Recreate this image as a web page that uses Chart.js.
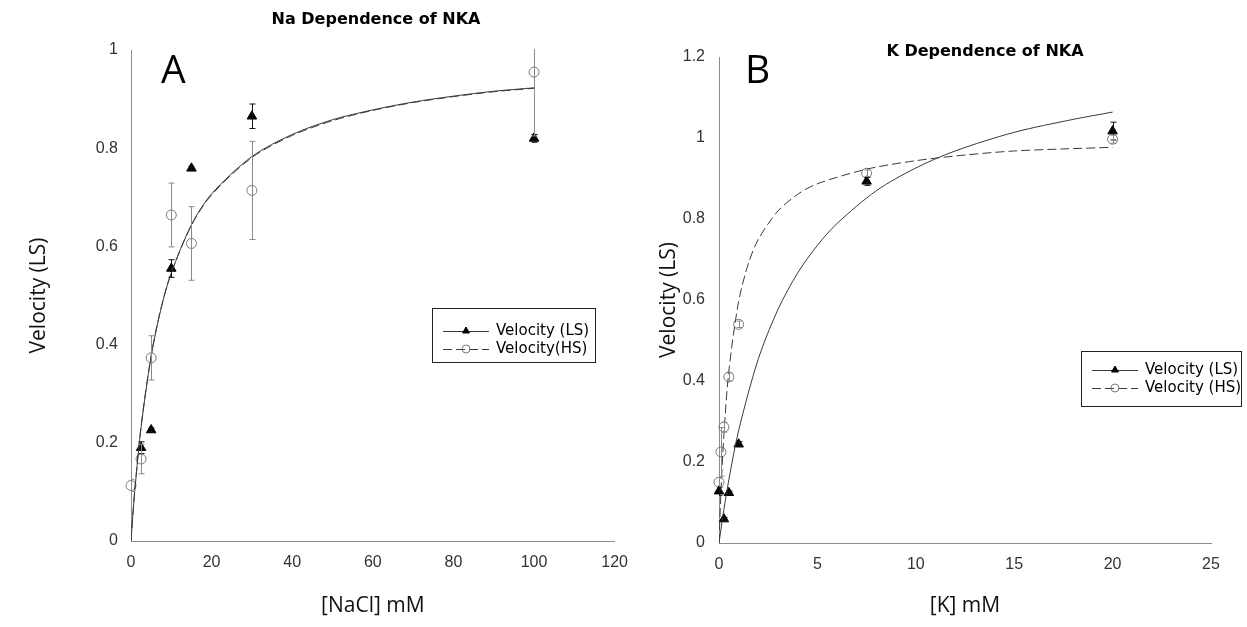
<!DOCTYPE html>
<html>
<head>
<meta charset="utf-8">
<script src="https://cdn.jsdelivr.net/npm/chart.js@4/dist/chart.umd.min.js"></script>
<style>
  body { margin: 0; background: #fff; }
  .panel { position: absolute; top: 0; height: 627px; }
  #panelA { left: 0; width: 640px; }
  #panelB { left: 640px; width: 607px; }
</style>
</head>
<body>
<div class="panel" id="panelA"><canvas id="naChart"></canvas></div>
<div class="panel" id="panelB"><canvas id="kChart"></canvas></div>
<script>
// Panel A: Na dependence
const naLsConc = [2.5, 5, 10, 15, 30, 100];
const naLsVel = [0.19, 0.226, 0.555, 0.759, 0.865, 0.82];
const naLsErr = [0.012, 0.004, 0.018, 0.004, 0.025, 0.008];
const naHsConc = [0, 2.5, 5, 10, 15, 30, 100];
const naHsVel = [0.113, 0.167, 0.373, 0.664, 0.606, 0.714, 0.955];
const naHsErr = [0.012, 0.03, 0.045, 0.065, 0.075, 0.1, 0.13];
const naFitConc = [0, 0.5, 1, 2.5, 5, 7.5, 10, 15, 20, 30, 40, 50, 60, 70, 80, 90, 100];
const naFitLs = [0, 0.057, 0.108, 0.231, 0.376, 0.475, 0.546, 0.644, 0.707, 0.783, 0.828, 0.858, 0.878, 0.894, 0.906, 0.916, 0.923];
const naFitHs = [0, 0.058, 0.11, 0.234, 0.378, 0.476, 0.546, 0.643, 0.705, 0.781, 0.826, 0.856, 0.877, 0.893, 0.905, 0.915, 0.922];

// Panel B: K dependence
const kLsConc = [0, 0.25, 0.5, 1, 7.5, 20];
const kLsVel = [0.128, 0.059, 0.124, 0.244, 0.893, 1.017];
const kLsErr = [0.01, 0.004, 0.004, 0.006, 0.01, 0.022];
const kHsConc = [0, 0.1, 0.25, 0.5, 1, 7.5, 20];
const kHsVel = [0.15, 0.225, 0.286, 0.41, 0.54, 0.913, 0.997];
const kHsErr = [0.01, 0.06, 0.012, 0.01, 0.008, 0.008, 0.01];
const kFitLsConc = [0, 0.25, 0.5, 1, 2, 3, 4, 5, 6, 8, 10, 12, 15, 18, 20];
const kFitLs = [0, 0.083, 0.156, 0.278, 0.455, 0.577, 0.667, 0.735, 0.789, 0.87, 0.926, 0.968, 1.014, 1.046, 1.064];
const kFitHsConc = [0, 0.1, 0.25, 0.5, 1, 1.5, 2, 3, 4, 5, 7.5, 10, 12.5, 15, 17.5, 20];
const kFitHs = [0, 0.128, 0.268, 0.424, 0.597, 0.691, 0.75, 0.82, 0.861, 0.887, 0.923, 0.944, 0.958, 0.968, 0.973, 0.977];

const tickFont = { family: "'Liberation Sans', Arial, sans-serif", size: 16 };
const axisTitleFont = { family: "'Open Sans', sans-serif", size: 21 };

function pts(xs, ys) {
    return xs.map((x, i) => ({ x: x, y: ys[i] }));
}

function tickText(v) {
    return String(Number(v.toFixed(2)));
}

// error bars + titles + legend drawn with the chart's own scales
const decoPlugin = {
    id: "deco",
    afterDatasetsDraw(chart, args, opts) {
        const ctx = chart.ctx;
        const xs = chart.scales.x, ys = chart.scales.y;
        const area = chart.chartArea;
        ctx.save();
        ctx.beginPath();
        ctx.rect(area.left, area.top - 1, area.right - area.left + 2, area.bottom - area.top + 1);
        ctx.clip();
        chart.data.datasets.forEach(ds => {
            if (!ds.errors) return;
            ctx.strokeStyle = ds.errorColor;
            ctx.lineWidth = 1;
            ds.data.forEach((p, i) => {
                const e = ds.errors[i];
                const px = Math.round(xs.getPixelForValue(p.x)) + 0.5;
                const y1 = ys.getPixelForValue(p.y - e);
                const y2 = ys.getPixelForValue(p.y + e);
                ctx.beginPath();
                ctx.moveTo(px, y1); ctx.lineTo(px, y2);
                ctx.moveTo(px - 3, y1); ctx.lineTo(px + 3, y1);
                ctx.moveTo(px - 3, y2); ctx.lineTo(px + 3, y2);
                ctx.stroke();
            });
        });
        ctx.restore();
    },
    afterDraw(chart, args, opts) {
        const ctx = chart.ctx;
        ctx.save();
        ctx.fillStyle = "#000";
        ctx.font = "bold 16px 'DejaVu Sans', sans-serif";
        ctx.textAlign = "center";
        ctx.textBaseline = "middle";
        ctx.fillText(opts.title, opts.titleX, opts.titleY);

        ctx.font = "39px 'Open Sans', sans-serif";
        ctx.textAlign = "left";
        ctx.textBaseline = "alphabetic";
        ctx.fillText(opts.letter, opts.letterX, opts.letterY);

        const lg = opts.legend;
        ctx.strokeStyle = "#222";
        ctx.lineWidth = 1;
        ctx.strokeRect(lg.x + 0.5, lg.y + 0.5, lg.w, lg.h);
        const entries = chart.data.datasets.filter(ds => ds.legendText);
        entries.forEach((ds, i) => {
            const y = lg.y + lg.rowTop + i * lg.rowGap;
            const fit = chart.data.datasets.find(d => d.fitOf === ds.legendText);
            ctx.save();
            ctx.strokeStyle = fit.borderColor;
            ctx.setLineDash(fit.borderDash || []);
            ctx.beginPath();
            ctx.moveTo(lg.x + 11, y + 0.5);
            ctx.lineTo(lg.x + 57, y + 0.5);
            ctx.stroke();
            ctx.restore();
            ctx.fillStyle = ds.pointBackgroundColor;
            ctx.strokeStyle = ds.pointBorderColor;
            Chart.helpers.drawPoint(ctx, { pointStyle: ds.pointStyle, radius: 4, rotation: 0, borderWidth: 1 }, lg.x + 34, y);
            ctx.fillStyle = "#000";
            ctx.font = "15px 'DejaVu Sans', sans-serif";
            ctx.textBaseline = "middle";
            ctx.fillText(ds.legendText, lg.x + 64, y);
        });
        ctx.restore();
    }
};

function makeChart(id, cfg) {
    return new Chart(document.getElementById(id), {
        type: "scatter",
        data: {
            datasets: [
                {
                    label: "fitLs", fitOf: cfg.lsLabel, data: cfg.fitLs, showLine: true,
                    borderColor: "#3a3a3a", borderWidth: 1, pointRadius: 0, tension: 0.3
                },
                {
                    label: "fitHs", fitOf: cfg.hsLabel, data: cfg.fitHs, showLine: true,
                    borderColor: "#3a3a3a", borderWidth: 1, borderDash: [9, 4], pointRadius: 0, tension: 0.3
                },
                {
                    label: cfg.lsLabel, legendText: cfg.lsLabel, data: cfg.ls, errors: cfg.lsErr, errorColor: "#111",
                    pointStyle: "triangle", pointRadius: 5.5, pointBackgroundColor: "#000", pointBorderColor: "#000",
                    pointBorderWidth: 1, clip: false
                },
                {
                    label: cfg.hsLabel, legendText: cfg.hsLabel, data: cfg.hs, errors: cfg.hsErr, errorColor: "#8a8a8a",
                    pointStyle: "circle", pointRadius: 5, pointBackgroundColor: "rgba(255,255,255,0)", pointBorderColor: "#7a7a7a",
                    pointBorderWidth: 1, clip: false
                }
            ]
        },
        options: {
            responsive: true,
            maintainAspectRatio: false,
            animation: false,
            layout: { padding: cfg.padding },
            plugins: {
                legend: { display: false },
                tooltip: { enabled: false },
                deco: cfg.deco
            },
            scales: {
                x: {
                    type: "linear", min: 0, max: cfg.xMax,
                    ticks: { stepSize: cfg.xStep, font: tickFont, color: "#333", padding: 12, callback: tickText },
                    grid: { display: false, drawTicks: false },
                    border: { display: true, color: "#8c8c8c", width: 1 },
                    title: { display: true, text: cfg.xTitle, font: axisTitleFont, color: "#111", padding: { top: 0, bottom: 8 } },
                    afterFit: s => { s.height = cfg.xHeight; }
                },
                y: {
                    type: "linear", min: 0, max: cfg.yMax,
                    ticks: { stepSize: 0.2, font: tickFont, color: "#333", padding: cfg.yTickPad, callback: tickText },
                    grid: { display: false, drawTicks: false },
                    border: { display: true, color: "#8c8c8c", width: 1 },
                    title: { display: true, text: "Velocity (LS)", font: axisTitleFont, color: "#111", padding: { top: cfg.yTitlePad, bottom: 0 } },
                    afterFit: s => { s.width = cfg.yWidth; }
                }
            }
        },
        plugins: [decoPlugin]
    });
}

makeChart("naChart", {
    ls: pts(naLsConc, naLsVel), lsErr: naLsErr,
    hs: pts(naHsConc, naHsVel), hsErr: naHsErr,
    fitLs: pts(naFitConc, naFitLs), fitHs: pts(naFitConc, naFitHs),
    lsLabel: "Velocity (LS)", hsLabel: "Velocity(HS)",
    xMax: 120, xStep: 20, yMax: 1, xTitle: "[NaCl] mM",
    padding: { left: 0, top: 50, right: 17, bottom: 0 },
    xHeight: 86, yWidth: 131, yTitlePad: 26, yTickPad: 13,
    deco: {
        title: "Na Dependence of NKA", titleX: 376, titleY: 20,
        letter: "A", letterX: 161, letterY: 83,
        legend: { x: 432, y: 308, w: 163, h: 54, rowTop: 23, rowGap: 18 }
    }
});

makeChart("kChart", {
    ls: pts(kLsConc, kLsVel), lsErr: kLsErr,
    hs: pts(kHsConc, kHsVel), hsErr: kHsErr,
    fitLs: pts(kFitLsConc, kFitLs), fitHs: pts(kFitHsConc, kFitHs),
    lsLabel: "Velocity (LS)", hsLabel: "Velocity (HS)",
    xMax: 25, xStep: 5, yMax: 1.2, xTitle: "[K] mM",
    padding: { left: 0, top: 57, right: 36, bottom: 0 },
    xHeight: 84, yWidth: 79, yTitlePad: 16, yTickPad: 14,
    deco: {
        title: "K Dependence of NKA", titleX: 345, titleY: 52,
        letter: "B", letterX: 105, letterY: 83,
        legend: { x: 441, y: 351, w: 160, h: 55, rowTop: 19, rowGap: 18 }
    }
});
</script>
</body>
</html>
